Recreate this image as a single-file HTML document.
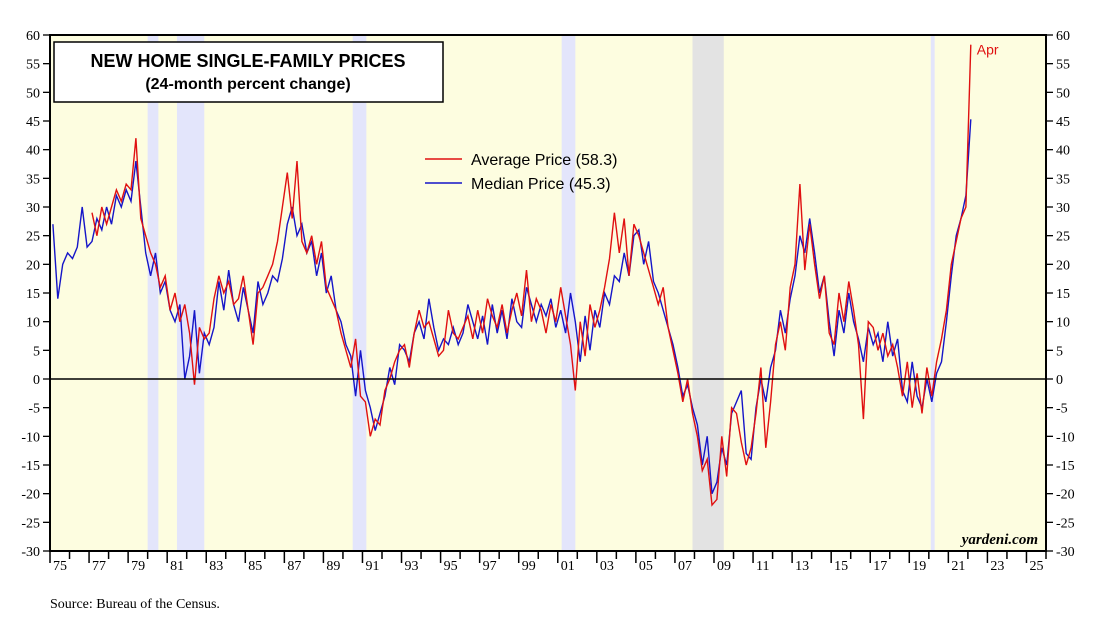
<!DOCTYPE html>
<html><head><meta charset="utf-8"><style>
body{margin:0;background:#fff;width:1119px;height:627px;overflow:hidden;font-family:"Liberation Serif",serif}
</style></head><body>
<svg id="c" width="1119" height="627" xmlns="http://www.w3.org/2000/svg"></svg>
<script>
const yTicks=[60,55,50,45,40,35,30,25,20,15,10,5,0,-5,-10,-15,-20,-25,-30];
const xLabels=["75","77","79","81","83","85","87","89","91","93","95","97","99","01","03","05","07","09","11","13","15","17","19","21","23","25"];
const recessions=[[1980.0,1980.55],[1981.5,1982.9],[1990.5,1991.2],[2001.2,2001.9],[2007.9,2009.5],[2020.1,2020.3]];
const medianStart=1975;
const medianVals=[27,14,20,22,21,23,30,23,24,28,26,30,27,32,30,33,31,38,30,22,18,22,15,17,12,10,13,0,4,12,1,8,6,9,17,12,19,13,10,16,12,8,17,13,15,18,17,21,27,30,25,27,22,24,18,22,15,18,12,10,6,4,-3,5,-2,-5,-9,-6,-3,2,-1,6,5,3,8,10,7,14,9,5,7,6,9,6,8,13,10,7,11,6,13,8,12,7,14,10,9,16,13,10,13,11,14,9,12,8,15,10,3,11,5,12,9,15,13,18,17,22,18,25,26,20,24,17,15,12,9,6,2,-3,-1,-5,-8,-15,-10,-20,-18,-12,-15,-6,-4,-2,-13,-14,-5,0,-4,2,5,12,8,14,18,25,22,28,22,15,18,10,4,12,8,15,10,7,3,9,6,8,3,10,4,7,-2,-4,3,-3,-5,0,-4,1,3,10,18,25,28,32,45.3];
const avgStart=1977;
const avgVals=[29,25,30,27,30,33,31,34,33,42,28,25,22,20,16,18,12,15,10,13,8,-1,9,7,8,14,18,15,17,13,14,18,12,6,15,16,18,20,24,30,36,28,38,24,22,25,20,24,16,14,12,8,5,2,7,-3,-4,-10,-7,-8,-2,0,3,5,6,2,8,12,9,10,7,4,5,12,8,7,9,11,7,12,8,14,11,9,13,8,12,15,11,19,10,14,12,8,13,10,16,11,6,-2,10,4,13,9,12,16,21,29,22,28,18,27,25,22,19,16,13,16,9,5,1,-4,0,-6,-10,-16,-14,-22,-21,-10,-17,-5,-6,-11,-15,-12,-6,2,-12,-4,6,10,5,16,20,34,19,27,20,14,18,8,6,15,10,17,12,6,-7,10,9,5,8,4,6,2,-3,3,-5,1,-6,2,-3,3,7,12,20,24,28,30,58.3];
const L=50,R=1046,T=35,B=551,X0=1975,X1=2026,YMAX=60,YMIN=-30;
const sx=t=>L+(t-X0)/(X1-X0)*(R-L);
const sy=v=>T+(YMAX-v)/(YMAX-YMIN)*(B-T);
const svg=document.getElementById('c');const NS='http://www.w3.org/2000/svg';
function mk(tag,at,txt){const e=document.createElementNS(NS,tag);for(const k in at)e.setAttribute(k,at[k]);if(txt!==undefined)e.textContent=txt;svg.appendChild(e);return e;}
let e;
e=mk('rect',{x:L,y:T,width:R-L,height:B-T,fill:'#fdfde0'});


recessions.forEach(r=>{const g=r[0]>2007&&r[0]<2008;
e=mk('rect',{x:sx(r[0]),y:T,width:sx(r[1])-sx(r[0]),height:B-T,fill:g?'#e3e3e3':'#e3e5fb'});

});
yTicks.forEach(v=>{const y=sy(v);
mk('line',{x1:L-7,x2:L,y1:y,y2:y,stroke:'#000','stroke-width':1.3});
mk('line',{x1:R,x2:R+7,y1:y,y2:y,stroke:'#000','stroke-width':1.3});
e=mk('text',{x:L-10,y:y+5,'text-anchor':'end','font-size':14},String(v));


e=mk('text',{x:R+10,y:y+5,'font-size':14},String(v));

});
for(let yr=X0;yr<=X1;yr++){const x=sx(yr);mk('line',{x1:x,x2:x,y1:B,y2:B+(yr%2?12:8),stroke:'#000','stroke-width':1.5});}
xLabels.forEach((lb,i)=>{const yr=X0+2*i;
e=mk('text',{x:sx(yr)+3,y:B+19,'font-size':14},lb);

});
function line(start,vals,col,name){const d=vals.map((v,i)=>(i?'L':'M')+sx(start+i*0.25+0.15).toFixed(1)+','+sy(v).toFixed(1)).join('');
e=mk('path',{d:d,fill:'none',stroke:col,'stroke-width':1.4});

}
line(medianStart,medianVals,'#1515c8','median-price-line');
line(avgStart,avgVals,'#e01010','average-price-line');
e=mk('line',{x1:L,x2:R,y1:sy(0),y2:sy(0),stroke:'#000','stroke-width':1.5});


mk('rect',{x:L,y:T,width:R-L,height:B-T,fill:'none',stroke:'#000','stroke-width':2});
e=mk('text',{x:sx(avgStart+(avgVals.length-1)*0.25+0.15)+6,y:sy(avgVals[avgVals.length-1])+10,'font-size':14,fill:'#e01010','font-family':'Liberation Sans'},'Apr');


e=mk('rect',{x:54,y:42,width:389,height:60,fill:'#fff',stroke:'#000','stroke-width':1.5});


e=mk('text',{x:248,y:67,'text-anchor':'middle','font-size':18,'font-weight':'bold','font-family':'Liberation Sans'},'NEW HOME SINGLE-FAMILY PRICES');


e=mk('text',{x:248,y:89,'text-anchor':'middle','font-size':16,'font-weight':'bold','font-family':'Liberation Sans'},'(24-month percent change)');


[['Average Price (58.3)','#e01010',159],['Median Price (45.3)','#1515c8',183]].forEach(a=>{
mk('line',{x1:425,x2:462,y1:a[2],y2:a[2],stroke:a[1],'stroke-width':1.5});
e=mk('text',{x:471,y:a[2]+6,'font-size':16,'font-family':'Liberation Sans'},a[0]);

});
e=mk('text',{x:1038,y:544,'text-anchor':'end','font-size':15,'font-style':'italic','font-weight':'bold'},'yardeni.com');


e=mk('text',{x:50,y:608,'font-size':14},'Source: Bureau of the Census.');


</script>
</body></html>
